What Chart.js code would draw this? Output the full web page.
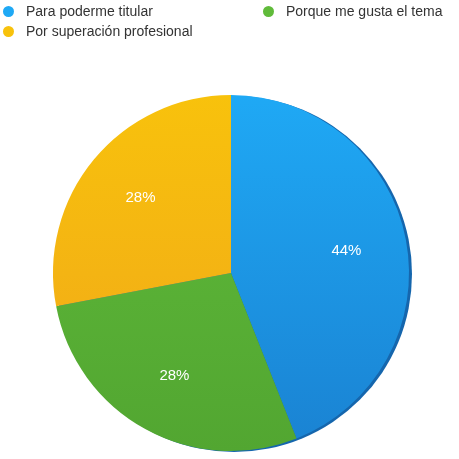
<!DOCTYPE html>
<html>
<head>
<meta charset="utf-8">
<script src="https://cdn.jsdelivr.net/npm/chart.js@4/dist/chart.umd.min.js"></script>
<style>
  html, body { margin: 0; padding: 0; background: #fff; }
  #wrap { position: relative; width: 459px; height: 459px; }
  #legend { position: absolute; left: 0; top: 0; width: 459px; font: 14px "Liberation Sans", Arial, sans-serif; color: #333; }
  .item { position: absolute; white-space: nowrap; line-height: 16px; }
  .dot { display: inline-block; width: 11px; height: 11px; border-radius: 50%; vertical-align: -1px; margin-right: 12px; }
</style>
</head>
<body>
<div id="wrap">
  <canvas id="pie" width="459" height="459"></canvas>
  <div id="legend"></div>
</div>
<script>
// data
const labels = ["Para poderme titular", "Porque me gusta el tema", "Por superación profesional"];
const values = [44, 28, 28];
const colorsTop = ["#1fa9f5", "#60bb3a", "#f8c20c"];
const colorsBottom = ["#1a82d2", "#52a631", "#f0a61a"];
// legend slots (left, top) for each label
const legendSlots = [[3, 3], [263, 3], [3, 23]];

// html legend built from the arrays
const legendEl = document.getElementById("legend");
labels.forEach((lab, i) => {
  const d = document.createElement("div");
  d.className = "item";
  d.style.left = legendSlots[i][0] + "px";
  d.style.top = legendSlots[i][1] + "px";
  d.innerHTML = '<span class="dot" style="background:' + colorsTop[i] + '"></span>' + lab;
  legendEl.appendChild(d);
});

// vertical gradient per slice
function sliceFill(context) {
  const i = context.dataIndex;
  const area = context.chart.chartArea;
  if (!area) return colorsTop[i];
  const g = context.chart.ctx.createLinearGradient(0, area.top, 0, area.bottom);
  g.addColorStop(0, colorsTop[i]);
  g.addColorStop(1, colorsBottom[i]);
  return g;
}

// dark rim peeking out on the right side of the disc
const rim = {
  id: "rim",
  beforeDatasetsDraw(chart) {
    const arc = chart.getDatasetMeta(0).data[0];
    if (!arc) return;
    const ctx = chart.ctx;
    ctx.save();
    ctx.beginPath();
    ctx.arc(arc.x + 3, arc.y + 1, arc.outerRadius, 0, Math.PI * 2);
    ctx.fillStyle = "#1566ad";
    ctx.fill();
    ctx.restore();
  }
};

// percent labels inside slices
const pctLabels = {
  id: "pctLabels",
  afterDatasetsDraw(chart) {
    const ctx = chart.ctx;
    const meta = chart.getDatasetMeta(0);
    const total = values.reduce((a, b) => a + b, 0);
    ctx.save();
    ctx.font = "15px 'Liberation Sans', Arial, sans-serif";
    ctx.fillStyle = "#fff";
    ctx.textAlign = "center";
    ctx.textBaseline = "middle";
    meta.data.forEach((arc, i) => {
      const mid = (arc.startAngle + arc.endAngle) / 2;
      const r = arc.outerRadius * 0.66;
      ctx.fillText(Math.round(values[i] / total * 100) + "%", arc.x + Math.cos(mid) * r, arc.y + Math.sin(mid) * r);
    });
    ctx.restore();
  }
};

new Chart(document.getElementById("pie"), {
  type: "pie",
  data: {
    labels: labels,
    datasets: [{
      data: values,
      backgroundColor: sliceFill,
      borderWidth: 0
    }]
  },
  options: {
    responsive: false,
    animation: false,
    layout: { padding: { left: 53, right: 50, top: 93, bottom: 6 } },
    plugins: {
      legend: { display: false },
      tooltip: { enabled: false }
    }
  },
  plugins: [rim, pctLabels]
});
</script>
</body>
</html>
